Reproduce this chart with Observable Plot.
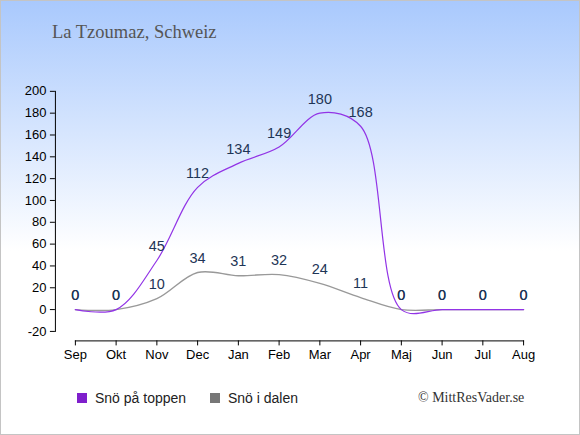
<!DOCTYPE html>
<html><head><meta charset="utf-8">
<script src="https://cdn.jsdelivr.net/npm/d3@7"></script>
<script src="https://cdn.jsdelivr.net/npm/@observablehq/plot@0.6"></script>
<style>
html,body{margin:0;padding:0;background:#fff;}
#wrap{position:relative;width:580px;height:435px;box-sizing:border-box;border:1px solid #c4c4c4;background:linear-gradient(to bottom,#a9c9fd 0px,#ffffff 250px);overflow:hidden;font-family:"Liberation Sans",Arial,sans-serif;}
#title{position:absolute;left:51px;top:21px;font-family:"Liberation Serif","Times New Roman",serif;font-size:18.5px;color:#555;white-space:nowrap;}
#chart{position:absolute;left:-1px;top:-1px;}
.leg{position:absolute;top:389px;font-size:14px;color:#222;white-space:nowrap;display:flex;align-items:center;}
.sw{display:inline-block;width:10px;height:10px;margin-right:8px;}
#copy{position:absolute;left:417px;top:389px;font-family:"Liberation Serif","Times New Roman",serif;font-size:14px;color:#333;white-space:nowrap;}
</style></head>
<body>
<div id="wrap">
  <div id="chart"></div>
  <div id="title">La Tzoumaz, Schweiz</div>
  <div id="legend"></div>
  <div id="copy">© MittResVader.se</div>
</div>
<script>
const months = ["Sep","Okt","Nov","Dec","Jan","Feb","Mar","Apr","Maj","Jun","Jul","Aug"];
const topSnow = [0,0,45,112,134,149,180,168,0,0,0,0];
const valleySnow = [0,0,10,34,31,32,24,11,0,0,0,0];
const yTicks = [-20,0,20,40,60,80,100,120,140,160,180,200];
const seriesNames = ["Snö på toppen","Snö i dalen"];
const lineColors = ["#9234e6","#999999"];
const legendColors = ["#7f1fcc","#777777"];

const topData = months.map((m,i)=>({month:m, value:topSnow[i]}));
const valleyData = months.map((m,i)=>({month:m, value:valleySnow[i]}));

const chart = Plot.plot({
  width:580, height:366,
  marginLeft:55, marginRight:56, marginTop:91, marginBottom:25,
  x:{type:"point", domain:months, padding:0, round:false, insetLeft:20},
  y:{domain:[-20,200], insetBottom:9.5},
  style:{background:"transparent", fontFamily:'"Liberation Sans",Arial,sans-serif', fontSize:"13px", color:"#000", overflow:"visible"},
  marks:[
    Plot.frame({anchor:"left", insetBottom:9.5, stroke:"#000"}),
    Plot.frame({anchor:"bottom", insetLeft:20, stroke:"#000"}),
    Plot.axisY({ticks:yTicks, tickSize:5, tickFormat:d=>String(d), label:null}),
    Plot.axisX({tickSize:5, label:null}),
    Plot.line(valleyData, {x:"month", y:"value", stroke:lineColors[1], strokeWidth:1.4, curve:"catmull-rom"}),
    Plot.line(topData, {x:"month", y:"value", stroke:lineColors[0], strokeWidth:1.2, curve:"catmull-rom"}),
    Plot.text(valleyData, {x:"month", y:"value", text:d=>String(d.value), dy:-14, fill:"#1e3556", fontSize:14.5}),
    Plot.text(topData, {x:"month", y:"value", text:d=>String(d.value), dy:-14, fill:"#1e3556", fontSize:14.5})
  ]
});
document.getElementById("chart").appendChild(chart);

const legend = document.getElementById("legend");
const legendX = [76, 209];
seriesNames.forEach((n,i)=>{
  const d = document.createElement("div");
  d.className = "leg";
  d.style.left = legendX[i] + "px";
  d.innerHTML = `<span class="sw" style="background:${legendColors[i]}"></span>${n}`;
  legend.appendChild(d);
});
</script>
</body></html>
